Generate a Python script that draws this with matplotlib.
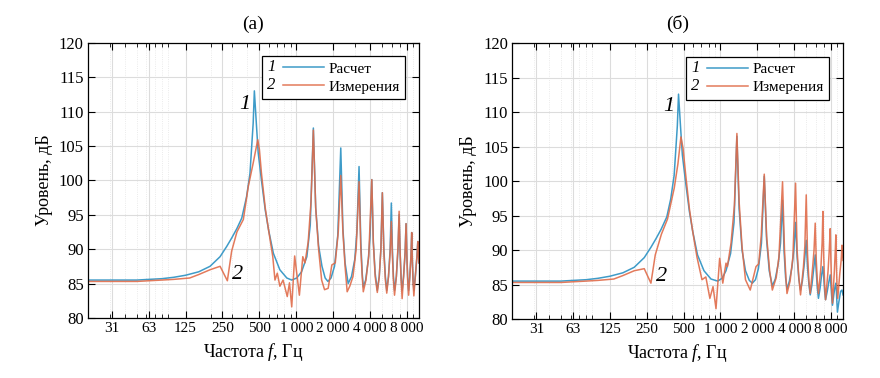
import matplotlib
matplotlib.use("Agg")
import matplotlib.pyplot as plt
import numpy as np
from matplotlib.legend_handler import HandlerLine2D
from matplotlib.text import Text
from matplotlib.ticker import LogLocator, NullFormatter

plt.rcParams['font.family'] = ['Liberation Serif', 'DejaVu Serif']
plt.rcParams['mathtext.fontset'] = 'custom'
plt.rcParams['mathtext.rm'] = 'Liberation Serif'
plt.rcParams['mathtext.it'] = 'Liberation Serif:italic'

# ---- data ----
tick_freqs = [31.5, 63, 125, 250, 500, 1000, 2000, 4000, 8000]
tick_labels = ['31', '63', '125', '250', '500', '1\u2009000', '2\u2009000', '4\u2009000', '8\u2009000']

# panel (а): calculation
calc_a_f = [20, 25, 31.5, 40, 50, 63, 80, 100, 125, 160, 198, 239, 271, 297, 328, 359, 393, 419, 445, 455,
            474, 489, 520, 558, 594, 650, 734, 837, 918, 1009, 1104, 1220, 1300, 1378, 1440, 1520, 1620, 1720,
            1812, 1920, 2050, 2180, 2306, 2400, 2500, 2650, 2820, 3000, 3120, 3250, 3360, 3450, 3520, 3680,
            3870, 4000, 4130, 4250, 4400, 4580, 4750, 4900, 5036, 5180, 5330, 5470, 5650, 5830, 5960, 6080,
            6200, 6330, 6550, 6760, 6900, 7030, 7160, 7300, 7500, 7720, 7860, 7980, 8120, 8250, 8430, 8620,
            8740, 8850, 8970, 9100, 9350, 9650, 9800, 9920, 10000]
calc_a_db = [85.5, 85.5, 85.5, 85.5, 85.5, 85.6, 85.7, 85.9, 86.2, 86.7, 87.5, 88.9, 90.4, 91.6, 93.0, 94.5, 97.6,
             101.0, 108.3, 113.0, 107.8, 104.0, 100.0, 95.7, 92.8, 89.4, 87.0, 85.8, 85.5, 85.8, 86.7, 88.9, 93.5,
             107.6, 96.0, 90.5, 87.5, 85.8, 85.3, 85.8, 87.5, 92.0, 104.7, 93.0, 88.0, 85.0, 86.0, 88.5, 92.5,
             102.0, 91.0, 86.5, 84.5, 85.5, 88.5, 92.0, 100.1, 91.0, 86.5, 84.0, 86.0, 90.0, 98.2, 90.0, 86.0,
             84.0, 86.0, 90.0, 96.7, 90.0, 86.0, 84.0, 86.0, 90.0, 95.0, 89.5, 86.0, 84.0, 86.0, 89.5, 93.7,
             89.0, 85.5, 84.0, 86.0, 89.0, 92.4, 88.5, 85.5, 84.0, 86.0, 89.0, 91.1, 89.5, 88.0]

# panel (а): measurement
meas_a_f = [20, 25, 31.5, 40, 50, 63, 80, 100, 135, 160, 198, 239, 274, 297, 328, 370, 406, 445, 485, 500,
            520, 558, 594, 643, 670, 700, 735, 780, 844, 880, 918, 970, 1060, 1130, 1177, 1250, 1320, 1378,
            1440, 1520, 1610, 1700, 1820, 1950, 2080, 2200, 2306, 2400, 2500, 2600, 2730, 2900, 3080, 3250,
            3360, 3450, 3520, 3700, 3900, 4130, 4250, 4400, 4580, 4750, 4900, 5036, 5180, 5330, 5470, 5650,
            5830, 5960, 6080, 6200, 6330, 6550, 6760, 6900, 7030, 7160, 7300, 7500, 7720, 7860, 7980, 8120,
            8250, 8430, 8620, 8740, 8850, 8970, 9100, 9350, 9650, 9800, 9920, 10000]
meas_a_db = [85.3, 85.3, 85.3, 85.3, 85.3, 85.4, 85.5, 85.6, 85.8, 86.3, 87.0, 87.5, 85.4, 89.7, 92.5, 94.3,
             99.1, 102.5, 105.9, 104.5, 101.0, 96.0, 92.8, 88.9, 85.5, 86.5, 84.6, 85.5, 83.1, 85.1, 81.6, 89.0,
             83.3, 88.9, 88.0, 91.0, 97.0, 107.3, 96.0, 90.0, 85.5, 84.1, 84.3, 87.7, 88.0, 92.5, 100.7, 92.5,
             87.5, 83.8, 84.6, 86.0, 90.0, 99.8, 90.0, 86.0, 83.8, 85.5, 89.0, 100.1, 91.0, 86.0, 83.7, 86.0,
             90.0, 98.2, 89.5, 85.5, 83.6, 86.0, 89.5, 94.0, 89.0, 85.5, 83.3, 86.0, 90.5, 95.5, 89.5, 85.5,
             82.8, 86.0, 89.5, 93.7, 89.0, 85.0, 83.3, 86.0, 89.0, 92.4, 88.0, 85.0, 83.2, 86.0, 89.0, 91.1,
             89.5, 88.0]

# panel (б): calculation
calc_b_f = [20, 25, 31.5, 40, 50, 63, 80, 100, 125, 160, 198, 239, 271, 297, 328, 365, 393, 419, 445, 455,
            474, 489, 520, 558, 594, 650, 734, 837, 950, 1030, 1110, 1210, 1290, 1362, 1420, 1500, 1600, 1720,
            1820, 1930, 2040, 2160, 2277, 2380, 2500, 2650, 2800, 2960, 3090, 3210, 3300, 3400, 3490, 3650,
            3830, 3970, 4100, 4220, 4360, 4500, 4660, 4830, 5010, 5130, 5270, 5400, 5580, 5780, 5930, 6050,
            6170, 6300, 6500, 6700, 6850, 6960, 7080, 7200, 7430, 7680, 7860, 7960, 8080, 8200, 8400, 8600,
            8740, 8830, 8920, 9000, 9250, 9550, 9800, 9920, 10000]
calc_b_db = [85.5, 85.5, 85.5, 85.5, 85.5, 85.6, 85.7, 85.9, 86.2, 86.7, 87.5, 88.9, 90.4, 91.6, 93.0, 94.8, 97.4,
             100.8, 108.0, 112.6, 107.5, 103.8, 99.8, 95.6, 92.7, 89.3, 87.0, 85.8, 85.5, 85.9, 87.0, 89.5, 94.0,
             106.5, 96.0, 90.0, 87.0, 85.6, 85.2, 85.7, 87.3, 91.0, 100.7, 91.5, 87.0, 84.8, 85.8, 88.0, 91.0,
             97.2, 90.0, 86.0, 84.3, 85.5, 87.5, 90.0, 94.0, 89.0, 85.8, 84.2, 85.5, 88.0, 91.4, 87.5, 85.0,
             83.5, 85.0, 87.5, 89.3, 86.8, 84.5, 83.0, 84.5, 86.5, 87.6, 86.0, 84.0, 82.8, 84.0, 85.5, 86.4,
             85.0, 83.3, 82.0, 83.5, 84.7, 85.2, 84.0, 82.3, 81.0, 82.5, 84.0, 84.2, 83.8, 83.5]

# panel (б): measurement
meas_b_f = [20, 25, 31.5, 40, 50, 63, 80, 100, 135, 160, 198, 239, 271, 294, 330, 370, 420, 450, 476, 495,
            520, 558, 594, 643, 707, 760, 820, 870, 920, 985, 1045, 1110, 1140, 1220, 1300, 1362, 1420, 1500,
            1600, 1750, 1950, 2050, 2150, 2277, 2380, 2520, 2650, 2850, 3000, 3210, 3330, 3420, 3490, 3700,
            3900, 4100, 4220, 4360, 4500, 4750, 4880, 5010, 5130, 5270, 5400, 5650, 5800, 5930, 6050, 6170,
            6300, 6600, 6750, 6850, 6960, 7080, 7200, 7550, 7720, 7860, 7960, 8080, 8200, 8500, 8650, 8740,
            8830, 8920, 9050, 9400, 9650, 9800, 9920, 10000]
meas_b_db = [85.3, 85.3, 85.3, 85.3, 85.3, 85.4, 85.5, 85.6, 85.8, 86.3, 87.0, 87.3, 85.2, 89.3, 92.3, 94.5,
             99.0, 102.5, 106.4, 104.8, 101.0, 96.0, 92.7, 89.0, 85.7, 86.1, 83.0, 84.7, 81.5, 88.8, 85.2, 88.1,
             87.6, 91.0, 96.5, 106.9, 97.0, 90.5, 85.7, 84.2, 87.6, 88.0, 92.0, 101.0, 92.0, 87.0, 84.2, 86.0,
             89.0, 99.9, 90.0, 86.0, 83.7, 85.5, 89.0, 99.7, 90.0, 86.0, 83.5, 87.5, 90.5, 98.0, 89.5, 85.5,
             83.7, 87.5, 90.0, 93.9, 88.5, 85.5, 83.7, 87.5, 91.0, 95.6, 89.0, 85.0, 82.8, 87.0, 90.0, 93.1,
             88.5, 84.5, 82.3, 87.0, 90.0, 92.2, 88.0, 85.0, 83.0, 86.5, 88.5, 90.7, 89.5, 88.5]

blue = '#3e9bc8'
orange = '#e06c4a'


class NumberedHandler(HandlerLine2D):
    # legend entry: italic number, then the line
    def __init__(self, num, **kw):
        super().__init__(**kw)
        self.num = num

    def create_artists(self, legend, orig_handle, xdescent, ydescent, width, height, fontsize, trans):
        gap = 0.27 * width
        artists = super().create_artists(legend, orig_handle, xdescent - gap, ydescent,
                                         width - gap, height, fontsize, trans)
        t = Text(-xdescent, (height - ydescent) / 2, self.num, fontsize=fontsize + 1,
                 style='italic', va='center', ha='left', transform=trans)
        return list(artists) + [t]


def panel(ax, title, cf, cd, mf, md, ann1, ann2):
    l1, = ax.plot(cf, cd, color=blue, lw=1.1, label='Расчет')
    l2, = ax.plot(mf, md, color=orange, lw=1.1, alpha=0.9, label='Измерения')
    ax.set_xscale('log')
    ax.set_xlim(20, 10000)
    ax.set_ylim(80, 120)
    ax.set_xticks(tick_freqs)
    ax.set_xticklabels(tick_labels)
    ax.xaxis.set_minor_locator(LogLocator(base=10, subs=np.arange(2, 10)))
    ax.xaxis.set_minor_formatter(NullFormatter())
    ax.set_yticks(np.arange(80, 121, 5))
    ax.tick_params(which='both', direction='in', top=True, right=True, labelsize=12, pad=3)
    ax.tick_params(axis='x', labelsize=11)
    ax.tick_params(which='major', length=5)
    ax.tick_params(which='minor', length=3)
    ax.grid(True, which='major', color='#dcdcdc', lw=0.8)
    ax.grid(True, which='minor', axis='x', color='#e4e4e4', lw=0.6, ls=':')
    ax.set_axisbelow(True)
    for s in ax.spines.values():
        s.set_linewidth(0.9)
    ax.set_title(title, fontsize=14, pad=10)
    ax.set_xlabel('Частота $f$, Гц', fontsize=13, labelpad=4)
    ax.set_ylabel('Уровень, дБ', fontsize=13, labelpad=4)
    leg = ax.legend(handles=[l1, l2], loc='upper right', fontsize=11, fancybox=False,
                    edgecolor='black', framealpha=1, handlelength=3.7, handletextpad=0.3,
                    borderpad=0.35, borderaxespad=0.9, labelspacing=0.3,
                    handler_map={l1: NumberedHandler('1'), l2: NumberedHandler('2')})
    leg.get_frame().set_linewidth(0.9)
    ax.text(ann1[0], ann1[1], '1', fontsize=16, style='italic', ha='center', va='center', zorder=6)
    ax.text(ann2[0], ann2[1], '2', fontsize=16, style='italic', ha='center', va='center')


fig = plt.figure(figsize=(8.8, 3.78), dpi=100)
ax1 = fig.add_axes([0.100, 0.159, 0.376, 0.728])
ax2 = fig.add_axes([0.582, 0.156, 0.376, 0.730])

panel(ax1, '(а)', calc_a_f, calc_a_db, meas_a_f, meas_a_db, (382, 111.0), (330, 86.3))
panel(ax2, '(б)', calc_b_f, calc_b_db, meas_b_f, meas_b_db, (377, 110.8), (333, 86.1))

fig.savefig('out.png', dpi=100)
